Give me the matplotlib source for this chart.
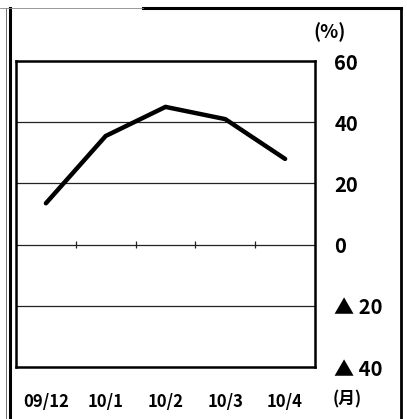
import matplotlib
matplotlib.use("Agg")
import matplotlib.pyplot as plt
from matplotlib.lines import Line2D
import numpy as np

categories = ["09/12", "10/1", "10/2", "10/3", "10/4"]
values = [13.5, 35.5, 45.0, 41.0, 28.0]
ytick_values = [60, 40, 20, 0, -20, -40]
ytick_labels = ["60", "40", "20", "0", "▲ 20", "▲ 40"]

CJK = ["Noto Sans CJK JP", "DejaVu Sans"]

W, H = 407, 419
fig = plt.figure(figsize=(W / 100, H / 100), dpi=100)
fig.patch.set_facecolor("white")

ax = fig.add_axes([16 / W, 1 - 367 / H, (315 - 16) / W, (367 - 61) / H])
x = np.arange(len(categories))
ax.plot(x, values, color="black", lw=3.2, solid_capstyle="round", solid_joinstyle="miter", zorder=3)

for v in ytick_values[1:-1]:
    ax.axhline(v, color="#222222", lw=0.9, zorder=1)

# small tick marks on the zero line at category boundaries
bx = np.arange(len(categories) - 1) + 0.5
ax.vlines(bx, -1.2, 1.2, color="#222222", lw=0.9, zorder=2)

ax.set_xlim(-0.5, len(categories) - 0.5)
ax.set_ylim(-40, 60)
ax.set_xticks(x)
ax.set_xticklabels(categories, fontfamily=CJK, fontweight="bold", fontsize=12)
ax.yaxis.tick_right()
ax.set_yticks(ytick_values)
ax.set_yticklabels(ytick_labels, fontfamily=CJK, fontweight="bold", fontsize=14.5)
ax.tick_params(axis="x", length=0, pad=19)
ax.tick_params(axis="y", length=0, pad=14)
for lab in ax.get_yticklabels():
    lab.set_horizontalalignment("left")
for s in ax.spines.values():
    s.set_linewidth(1.8)
    s.set_color("black")

fig.text(330 / W, 1 - 32 / H, "(%)", ha="center", va="center", fontfamily=CJK,
         fontweight="bold", fontsize=13.5)
fig.text(347 / W, 1 - 399 / H, "(月)", ha="center", va="center", fontfamily=CJK,
         fontweight="bold", fontsize=12)

# outer frame lines
def fl(x0, y0, x1, y1, lw, color="black"):
    fig.add_artist(Line2D([x0 / W, x1 / W], [1 - y0 / H, 1 - y1 / H], color=color, lw=lw,
                          transform=fig.transFigure))

fl(10, 8, 10, 419, 2.2)
fl(6, 8, 6, 419, 0.6, "#555555")
fl(401, 8, 401, 419, 2.0)
fl(143, 8, 401, 8, 2.2)
fl(0, 8, 143, 8, 0.6, "#888888")

fig.savefig("out.png", dpi=100)
